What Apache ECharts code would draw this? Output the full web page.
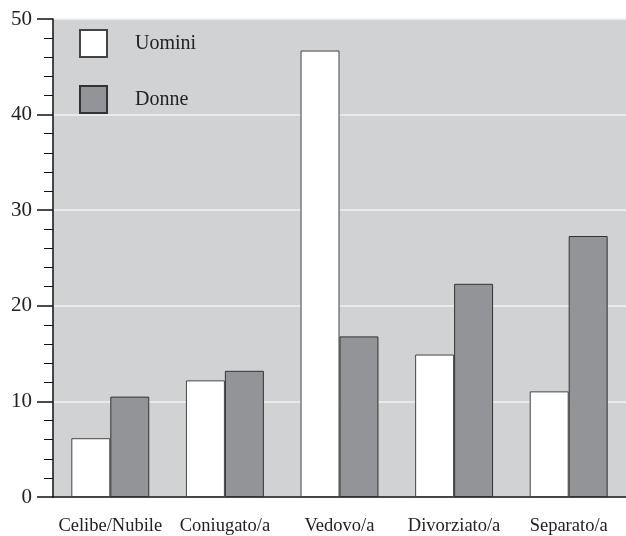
<!DOCTYPE html>
<html>
<head>
<meta charset="utf-8">
<script src="https://cdn.jsdelivr.net/npm/echarts@6/dist/echarts.min.js"></script>
<style>
  html, body { margin: 0; padding: 0; background: #fff; }
  #chart { width: 626px; height: 536px; }
</style>
</head>
<body>
<div id="chart"></div>
<script>
const categories = ['Celibe/Nubile', 'Coniugato/a', 'Vedovo/a', 'Divorziato/a', 'Separato/a']
const uomini = [6.15, 12.2, 46.7, 14.9, 11.05]
const donne  = [10.5, 13.2, 16.8, 22.3, 27.3]

const FONT = '"Liberation Serif", "DejaVu Serif", serif'

const chart = echarts.init(document.getElementById('chart'))
chart.setOption({
  animation: false,
  grid: {
    left: 53, right: -4, top: 19, bottom: 37,
    show: true, backgroundColor: '#d1d2d4', borderWidth: 0,
  },
  legend: {
    orient: 'vertical',
    left: 79, top: 29, padding: 0,
    itemWidth: 27, itemHeight: 27, itemGap: 27,
    icon: 'rect',
    textStyle: { fontFamily: FONT, fontSize: 20, color: '#222', padding: [0, 0, 0, 23] },
    data: ['Uomini', 'Donne'],
  },
  xAxis: {
    type: 'category',
    data: categories,
    axisLine: { lineStyle: { color: '#111', width: 1.5 } },
    axisTick: { show: false },
    axisLabel: { interval: 0, fontFamily: FONT, fontSize: 18.5, color: '#222', margin: 20 },
  },
  yAxis: {
    type: 'value',
    min: 0, max: 50, interval: 10,
    axisLine: { show: true, lineStyle: { color: '#111', width: 1.5 } },
    axisTick: { show: true, length: 16, lineStyle: { color: '#111', width: 1.5 } },
    minorTick: { show: true, splitNumber: 5, length: 9, lineStyle: { color: '#111', width: 1 } },
    splitLine: { show: true, lineStyle: { color: '#f2f2f2', width: 1.5 } },
    axisLabel: { fontFamily: FONT, fontSize: 21, color: '#222', margin: 21 },
  },
  series: [
    {
      name: 'Uomini', type: 'bar', data: uomini,
      barGap: '0%', barCategoryGap: '32%',
      itemStyle: { color: '#ffffff', borderColor: '#444', borderWidth: 1 },
    },
    {
      name: 'Donne', type: 'bar', data: donne,
      itemStyle: { color: '#939497', borderColor: '#333', borderWidth: 1 },
    },
  ],
})
</script>
</body>
</html>
